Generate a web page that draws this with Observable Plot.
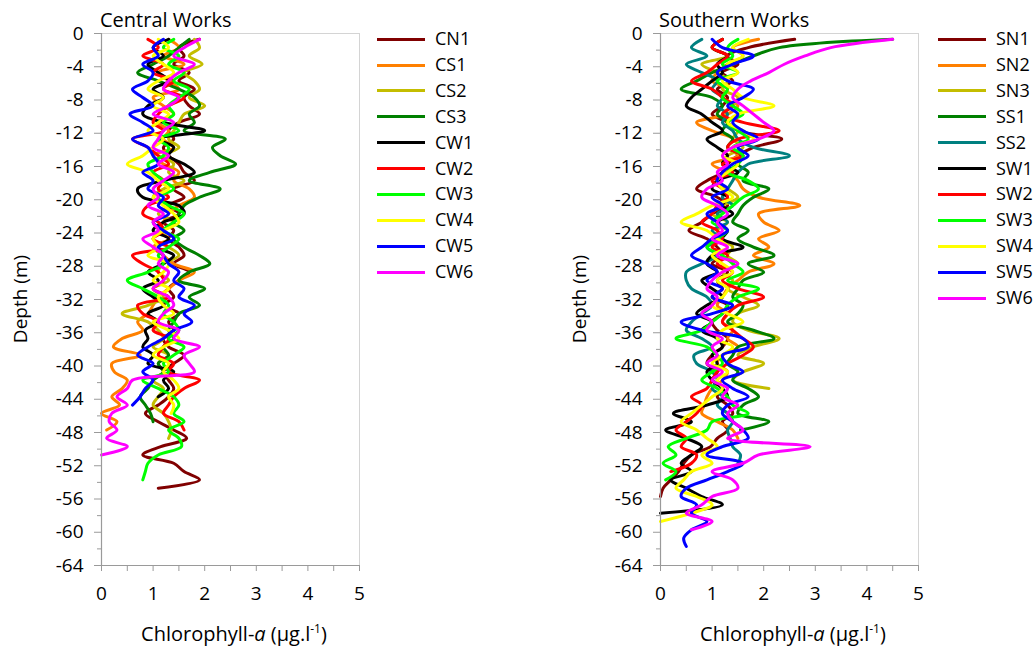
<!DOCTYPE html>
<html>
<head>
<meta charset="utf-8">
<script src="https://cdn.jsdelivr.net/npm/d3@7"></script>
<script src="https://cdn.jsdelivr.net/npm/@observablehq/plot@0.6"></script>
<style>
  html, body { margin: 0; padding: 0; background: #fff; }
  #root { position: relative; width: 1036px; height: 650px; background: #fff; font-family: "Open Sans", sans-serif; color: #000; overflow: hidden; }
  .panel { position: absolute; top: 0; }
  .title { position: absolute; font-size: 20px; line-height: 20px; }
  .xlab { position: absolute; font-size: 20px; line-height: 20px; transform: translateX(-50%); white-space: nowrap; }
  .xlab sup { font-size: 12px; vertical-align: 8px; line-height: 0; }
  .ylab { position: absolute; font-size: 19px; line-height: 20px; transform: translate(-50%, -50%) rotate(-90deg); white-space: nowrap; }
  .leg { position: absolute; font-size: 18px; line-height: 20px; white-space: nowrap; }
  .leg span.sw { display: inline-block; width: 48px; height: 3px; vertical-align: middle; margin-right: 10px; position: relative; top: -1px; }
</style>
</head>
<body>
<div id="root"></div>
<script>
// Sampling grid: first reading at 0.7 m, then every 1 m (depth = 0.7 + index)
const depthStart = 0.7;
const depthStep = 1;

// ---------------- Central Works ----------------
const centralNames = ["CN1","CS1","CS2","CS3","CW1","CW2","CW3","CW4","CW5","CW6"];
const centralColors = ["#800000","#ff8000","#c4bd00","#008000","#000000","#ff0000","#00ff00","#ffff00","#0000ff","#ff00ff"];
const CN1 = [1.9,1.5,1.6,1.4,1.7,1.5,1.8,1.6,1.7,1.9,1.5,1.3,1.4,1.2,1.3,1.5,1.6,1.8,1.4,1.6,1.3,1.5,1.2,1.4,1.3,1.5,1.6,1.4,1.7,1.5,1.3,1.4,1.2,1.5,1.3,1.4,1.2,1.3,1.6,1.4,1.2,1.3,1.4,1.3,1.1,0.85,1.1,1.4,1.65,1.15,0.8,1.4,1.6,1.9,1.1];
const CS1 = [1.3,1.5,1.2,1.6,1.1,1.3,1.5,1.0,1.2,1.4,1.1,1.3,1.2,1.4,1.0,1.2,1.5,1.4,1.7,1.8,1.5,1.3,1.2,1.1,1.3,1.0,1.2,1.4,1.8,1.5,1.3,1.1,1.0,0.9,0.7,0.8,0.4,0.23,0.75,0.2,0.25,0.5,0.4,0.2,0.35,0.0,0.3,0.1];
const CS2 = [1.8,1.9,1.7,1.95,1.6,1.8,1.9,1.7,2.0,1.6,1.5,1.4,1.3,1.5,1.2,1.4,1.3,1.6,1.2,1.0,1.3,1.1,1.4,1.2,1.0,1.3,1.5,1.2,1.1,1.3,1.0,1.2,0.9,0.4,0.9,1.1,1.2,1.0,1.3,1.1,1.2,1.0,1.2,1.1,1.0,1.2,1.3,1.35,1.3];
const CS3 = [1.7,1.5,1.3,1.0,0.7,1.1,1.5,1.8,1.9,1.7,1.8,1.6,2.4,2.15,2.3,2.6,2.1,1.7,2.3,1.9,1.6,1.5,1.4,1.6,1.4,1.6,1.9,2.1,1.7,1.5,2.0,1.7,1.9,1.5,1.4,1.3,1.4,1.2,1.3,1.1,1.2,1.0,0.9,0.75,0.85,0.95,1.0];
const CW1 = [1.3,1.0,1.2,0.9,1.1,1.3,1.0,1.2,0.9,0.8,1.2,2.0,1.1,1.4,1.3,1.6,1.8,1.2,0.7,0.8,1.5,1.6,1.2,1.0,1.3,1.1,1.4,1.2,0.9,1.1,0.8,1.0,1.2,0.9,1.1,0.85,0.9,0.8,1.0,0.9,1.4,1.2,1.3,1.1];
const CW2 = [0.9,1.1,0.8,1.2,1.0,1.4,1.2,1.6,1.3,1.1,1.0,1.2,0.6,0.9,1.1,1.3,1.0,1.2,1.1,1.3,0.9,0.8,1.1,1.2,1.0,1.3,0.6,0.8,1.1,1.2,1.0,1.3,0.7,0.8,1.1,1.0,1.3,1.2,1.1,1.4,1.3,1.9,1.6,1.4,1.3,1.2,1.5,1.6];
const CW3 = [1.4,1.2,1.5,1.3,1.6,1.4,1.7,1.5,1.3,1.4,1.2,1.5,1.1,1.3,1.2,0.9,1.0,1.2,1.4,1.1,1.3,1.6,1.4,1.2,1.5,1.3,1.1,1.2,0.9,0.5,0.8,1.1,1.3,1.2,1.4,1.5,1.3,1.6,1.4,1.2,1.3,0.8,1.1,1.4,1.5,1.4,1.6,1.3,1.5,1.55,1.1,0.9,0.85,0.8];
const CW4 = [1.1,1.3,1.0,1.2,1.4,1.1,0.9,1.2,1.0,1.3,1.1,0.9,1.2,1.0,0.8,0.5,0.9,1.1,1.3,1.0,1.2,1.4,1.5,1.2,1.0,1.1,0.9,1.3,1.2,1.0,1.3,1.1,1.2,1.4,1.0,1.3,1.5,1.2,1.0,1.3,1.2,1.4,1.5,1.3,1.4,1.35];
const CW5 = [1.2,1.0,1.1,0.8,1.0,0.9,0.6,0.8,1.0,0.55,0.8,1.0,0.6,0.9,1.0,1.1,0.8,1.0,0.9,1.2,1.1,1.3,1.0,1.2,1.4,1.1,1.2,1.3,1.5,1.4,1.6,1.5,1.8,1.6,1.75,1.4,1.2,0.9,0.7,1.0,0.8,1.0,0.85,0.75,0.6];
const CW6 = [1.9,1.6,1.4,1.8,1.5,1.3,1.2,1.5,1.3,1.0,1.4,1.2,1.1,1.0,1.3,1.1,1.4,1.2,1.0,1.1,0.9,1.2,1.0,1.1,0.8,1.0,1.2,1.1,1.3,1.2,1.0,1.3,1.4,1.2,1.1,1.5,1.4,1.9,1.6,1.7,1.8,0.6,0.5,0.3,0.5,0.2,0.15,0.3,0.1,0.5,0.0];
const centralSeries = [CN1,CS1,CS2,CS3,CW1,CW2,CW3,CW4,CW5,CW6];

// ---------------- Southern Works ----------------
const southernNames = ["SN1","SN2","SN3","SS1","SS2","SW1","SW2","SW3","SW4","SW5","SW6"];
const southernColors = ["#800000","#ff8000","#c4bd00","#008000","#008080","#000000","#ff0000","#00ff00","#ffff00","#0000ff","#ff00ff"];
const SN1 = [2.6,1.7,1.3,1.5,1.2,1.4,1.1,1.3,1.2,1.0,1.3,1.5,2.35,1.8,1.5,1.3,1.2,0.9,0.7,1.1,1.3,1.0,0.8,0.55,0.9,1.1,1.2,1.0,1.3,1.1,1.2,1.0,1.3,1.2,1.0,1.1,1.3,1.2,1.0,0.9,1.1,1.0,1.2,1.1,1.3,1.4,1.2,1.3,1.1,0.97,0.6,0.45,0.35,0.2,0.05,0.0];
const SN2 = [1.9,1.4,1.6,1.3,1.1,1.0,1.3,1.2,1.5,1.3,0.7,1.0,1.4,1.3,1.5,1.0,1.3,1.5,1.6,1.9,2.7,1.9,2.0,2.3,1.9,2.1,1.8,2.2,1.7,1.5,1.3,1.2,1.1,1.3,1.2,1.4,1.3,1.5,1.2,1.1,1.3,1.2,1.0,0.9,0.85,0.8,1.1,1.4,1.5];
const SN3 = [1.2,1.0,1.3,0.8,1.1,1.3,1.2,1.5,1.4,1.2,1.3,1.5,1.4,1.6,1.3,1.2,1.4,1.1,1.3,1.5,1.2,1.0,1.3,1.1,1.2,1.4,1.3,1.5,1.2,1.4,1.3,1.6,1.9,1.5,1.4,1.7,2.3,1.8,1.5,2.0,1.6,1.4,2.1];
const SS1 = [4.5,2.3,1.8,1.4,1.0,0.7,0.4,1.0,1.2,1.1,1.3,1.2,1.4,1.3,1.6,1.5,1.7,1.6,2.1,1.8,1.6,1.5,1.4,1.7,1.5,1.8,2.2,1.7,2.0,1.6,1.5,1.4,1.6,1.5,1.3,1.8,2.2,1.5,1.4,1.3,1.5,1.4,1.7,1.9,1.6,1.5,2.1,1.55];
const SS2 = [0.8,0.6,0.9,0.5,0.8,1.1,1.0,1.2,1.1,1.3,1.2,1.4,1.5,1.8,2.5,1.7,1.5,1.4,1.3,1.2,1.4,1.1,1.3,1.0,1.2,0.9,1.1,0.8,0.5,0.5,0.6,0.9,1.0,0.8,0.6,0.5,0.8,1.0,0.65,0.7,1.0,1.1,1.0,1.2,1.1,1.3,1.4,1.3,1.35,1.4,1.55,1.5];
const SW1 = [1.2,1.0,1.3,1.1,1.2,1.0,0.8,0.6,0.5,0.8,1.0,1.2,0.9,1.1,1.3,1.2,1.5,1.1,1.0,1.3,1.2,1.4,1.1,1.3,1.2,1.6,1.0,0.9,1.1,0.8,1.0,1.2,0.9,0.7,1.0,0.8,1.1,1.2,1.0,1.1,0.9,1.0,1.2,1.3,0.9,0.25,0.6,0.1,0.5,0.8,0.6,0.4,0.6,0.2,0.5,0.8,1.2,0.0];
const SW2 = [1.2,1.0,1.3,1.1,0.9,0.6,1.0,1.2,1.4,1.2,1.6,2.3,1.5,1.3,1.6,1.2,1.4,1.0,1.2,1.3,1.1,1.0,0.8,1.1,1.2,1.0,1.3,1.1,1.4,1.2,1.5,2.0,1.5,1.3,1.2,1.4,1.6,1.8,1.6,1.3,1.1,1.0,0.9,0.6,0.8,0.7,0.5,0.3,0.5,0.4,0.7,0.6,0.2];
const SW3 = [1.5,1.3,1.4,1.2,1.5,1.1,1.3,1.2,1.4,1.6,1.3,1.5,1.7,1.4,1.6,1.5,1.3,1.7,1.9,1.6,1.4,1.2,1.0,1.3,1.1,0.9,1.2,1.4,1.6,1.3,1.9,1.5,1.3,1.2,1.0,0.8,0.3,0.9,1.1,1.2,1.0,0.8,1.1,1.3,1.4,1.7,1.0,0.9,0.5,0.15,0.3,0.05,0.3,0.1];
const SW4 = [1.7,1.4,1.6,1.3,1.5,1.2,1.4,1.6,2.2,1.5,1.3,1.6,1.8,1.4,1.2,1.5,1.3,1.1,1.2,1.4,1.0,0.7,0.4,0.9,1.1,1.3,1.0,1.2,1.4,1.1,1.3,1.2,1.0,1.3,1.6,1.2,1.1,1.4,1.2,1.0,1.3,1.1,1.2,1.0,0.8,0.6,0.4,0.7,0.9,1.1,0.8,1.0,0.6,0.45,0.3,0.7,1.0,0.6,0.0];
const SW5 = [1.0,1.2,1.8,1.4,1.1,1.3,1.8,1.6,1.3,1.5,1.4,1.6,1.9,1.5,1.7,1.4,1.2,1.1,1.3,1.0,1.2,0.9,1.1,1.3,1.0,0.8,0.6,0.9,1.1,0.9,1.2,1.0,1.4,1.0,0.4,0.8,1.6,1.7,1.2,1.3,1.6,1.2,1.4,1.7,1.3,1.2,1.4,1.6,1.7,1.2,0.9,1.6,1.3,0.9,0.5,0.4,0.7,0.6,0.9,0.6,0.45,0.5];
const SW6 = [4.5,3.3,2.8,2.4,2.1,1.75,1.5,1.4,1.6,1.8,2.0,2.2,1.9,1.4,1.2,1.3,1.1,1.2,0.9,0.8,1.1,1.3,1.1,1.2,1.0,1.3,1.1,1.5,1.2,1.0,0.9,1.1,1.0,0.8,1.0,0.9,1.2,1.0,1.1,0.9,1.2,1.0,1.3,1.2,1.5,1.3,1.4,1.6,1.3,2.9,1.9,1.6,1.0,1.4,1.5,1.0,0.8,0.5,1.0,0.6];
const southernSeries = [SN1,SN2,SN3,SS1,SS2,SW1,SW2,SW3,SW4,SW5,SW6];

// Axis tick values
const yMajorTicks = d3.range(-64, 1, 4);
const yMinorTicks = d3.range(-62, 0, 4);
const xMajorTicks = [0, 1, 2, 3, 4, 5];
const xMinorTicks = [0.5, 1.5, 2.5, 3.5, 4.5];

const root = document.getElementById("root");

function panel(left, title, names, colors, series) {
  const rows = [];
  names.forEach((n, k) => series[k].forEach((v, i) => rows.push({name: n, chl: v, depth: -(depthStart + i * depthStep)})));
  const axisColor = "#9a9a9a";
  const chart = Plot.plot({
    width: 370, height: 600,
    marginLeft: 101, marginRight: 11, marginTop: 33, marginBottom: 35,
    x: {domain: [0, 5]},
    y: {domain: [-64, 0]},
    color: {domain: names, range: colors},
    style: {fontFamily: "'Open Sans', sans-serif", fontSize: "19px", color: "#000", background: "transparent", overflow: "visible"},
    marks: [
      Plot.frame({stroke: "#d4d4d4"}),
      Plot.line(rows, {x: "chl", y: "depth", z: "name", stroke: "name", strokeWidth: 3, strokeLinejoin: "round", curve: "catmull-rom"}),
      Plot.ruleX([0], {stroke: axisColor, strokeWidth: 1.2}),
      Plot.ruleY([-64], {stroke: axisColor, strokeWidth: 1.2}),
      Plot.axisY({ticks: yMajorTicks, tickSize: 7, tickPadding: 11, tickFormat: d => String(d), label: null, stroke: axisColor, fill: "#000"}),
      Plot.axisY({ticks: yMinorTicks, tickSize: 4, tickFormat: () => "", label: null, stroke: axisColor}),
      Plot.axisX({ticks: xMajorTicks, tickSize: 6, tickPadding: 15, tickFormat: d => String(d), label: null, stroke: axisColor, fill: "#000"}),
      Plot.axisX({ticks: xMinorTicks, tickSize: 6, tickFormat: () => "", label: null, stroke: axisColor})
    ]
  });
  const wrap = document.createElement("div");
  wrap.className = "panel";
  wrap.style.left = left + "px";
  wrap.appendChild(chart);
  root.appendChild(wrap);

  const t = document.createElement("div");
  t.className = "title";
  t.style.left = (left + 100) + "px";
  t.style.top = "10px";
  t.textContent = title;
  root.appendChild(t);

  const xl = document.createElement("div");
  xl.className = "xlab";
  xl.style.left = (left + 234) + "px";
  xl.style.top = "624px";
  xl.innerHTML = "Chlorophyll-<i>a</i> (µg.l<sup>-1</sup>)";
  root.appendChild(xl);

  const yl = document.createElement("div");
  yl.className = "ylab";
  yl.style.left = (left + 20) + "px";
  yl.style.top = "299px";
  yl.textContent = "Depth (m)";
  root.appendChild(yl);
}

function legend(left, names, colors) {
  names.forEach((n, k) => {
    const d = document.createElement("div");
    d.className = "leg";
    d.style.left = left + "px";
    d.style.top = (28 + k * 25.9) + "px";
    d.innerHTML = `<span class="sw" style="background:${colors[k]}"></span>${n}`;
    root.appendChild(d);
  });
}

panel(0, "Central Works", centralNames, centralColors, centralSeries);
panel(559, "Southern Works", southernNames, southernColors, southernSeries);
legend(377, centralNames, centralColors);
legend(938, southernNames, southernColors);
</script>
</body>
</html>
